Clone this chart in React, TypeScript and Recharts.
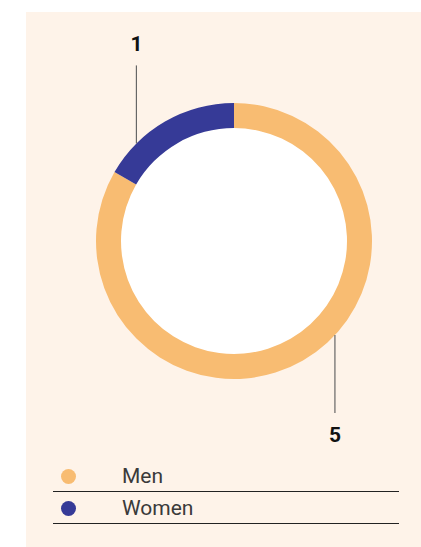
import React from 'react';
import { PieChart, Pie, Cell, Legend } from 'recharts';

const categories = ['Men', 'Women'];
const counts = [5, 1];
const colors = ['#f8bc72', '#363a97'];

const data = categories.map((name, i) => ({ name, value: counts[i], fill: colors[i] }));
const hole = [{ name: 'hole', value: 1 }];

const RAD = Math.PI / 180;

// label sits on a vertical leader line dropped from the outer edge of the ring
const LeaderLabel = (props: any) => {
  const { cx, cy, outerRadius, midAngle, value } = props;
  const upper = Math.sin(-midAngle * RAD) < 0;
  const angle = midAngle + (upper ? 15 : 17);
  const x = cx + outerRadius * Math.cos(-angle * RAD);
  const y = cy + outerRadius * Math.sin(-angle * RAD);
  const y2 = upper ? y - 78 : y + 78;
  const ty = upper ? y2 - 14 : y2 + 29;
  return (
    <g>
      <line x1={x} y1={y} x2={x} y2={y2} stroke="#666" strokeWidth={1.2} />
      <text x={x} y={ty} textAnchor="middle" fontSize={21} fontWeight={700} fill="#111"
        fontFamily="Roboto, sans-serif">
        {value}
      </text>
    </g>
  );
};

const LegendRows = () => (
  <div style={{ width: 346 }}>
    {data.map((d) => (
      <div key={d.name} style={{ position: 'relative', height: 31, borderBottom: '1.3px solid #222' }}>
        <span style={{ position: 'absolute', left: 8, top: 9, width: 15, height: 15, borderRadius: '50%', background: d.fill }} />
        <span style={{ position: 'absolute', left: 69, top: 4, fontSize: 21, lineHeight: '24px', color: '#3a3a3a', fontFamily: 'Roboto, sans-serif', fontWeight: 400 }}>
          {d.name}
        </span>
      </div>
    ))}
  </div>
);

export default function App() {
  return (
    <div style={{ position: 'absolute', left: 0, top: 0, width: 421, height: 547, background: '#fff' }}>
      <div style={{ position: 'absolute', left: 26, top: 12, width: 395, height: 535, background: '#fef3e9' }} />
      <div style={{ position: 'absolute', left: 0, top: 0 }}>
        <PieChart width={421} height={547} margin={{ top: 0, right: 0, bottom: 0, left: 0 }}>
          <Pie
            data={hole}
            dataKey="value"
            cx={234}
            cy={241}
            innerRadius={0}
            outerRadius={114}
            fill="#fff"
            stroke="none"
            isAnimationActive={false}
            legendType="none"
          />
          <Pie
            data={data}
            dataKey="value"
            nameKey="name"
            cx={234}
            cy={241}
            innerRadius={113}
            outerRadius={138}
            startAngle={90}
            endAngle={-270}
            stroke="none"
            isAnimationActive={false}
            labelLine={false}
            label={LeaderLabel}
          >
            {data.map((d) => (
              <Cell key={d.name} fill={d.fill} />
            ))}
          </Pie>
          <Legend
            content={<LegendRows />}
            layout="vertical"
            wrapperStyle={{ position: 'absolute', left: 53, top: 460, width: 346 }}
          />
        </PieChart>
      </div>
    </div>
  );
}
